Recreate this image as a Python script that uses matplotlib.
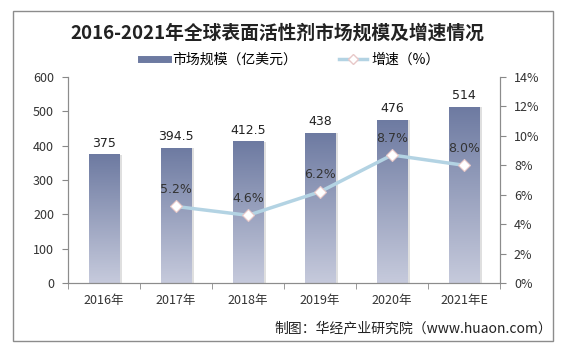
import matplotlib
matplotlib.use("Agg")
import matplotlib.pyplot as plt
import numpy as np
from matplotlib.patches import Rectangle
from matplotlib.lines import Line2D
from matplotlib.colors import LinearSegmentedColormap

plt.rcParams['font.family'] = ['Noto Sans CJK SC', 'DejaVu Sans']

categories = ["2016年", "2017年", "2018年", "2019年", "2020年", "2021年E"]
market_size = [375, 394.5, 412.5, 438, 476, 514]
size_labels = ["375", "394.5", "412.5", "438", "476", "514"]
growth_years = ["2017年", "2018年", "2019年", "2020年", "2021年E"]
growth = [5.2, 4.6, 6.2, 8.7, 8.0]

fig = plt.figure(figsize=(5.64, 3.6), dpi=100)
fig.patch.set_facecolor("white")

frame = Rectangle((13/564, 1-341/360), (553-13)/564, (341-11)/360, transform=fig.transFigure,
                  fill=False, edgecolor="#8c8c8c", linewidth=1.0)
fig.patches.append(frame)

ax = fig.add_axes([68/564, 1-283/360, (500-68)/564, (283-77)/360])
ax2 = ax.twinx()

x = np.arange(len(categories))
bw = 0.43

grad = np.linspace(0, 1, 256).reshape(-1, 1)
cmap = LinearSegmentedColormap.from_list("g", ["#c6cadc", "#6d7aa1"])

bars = ax.bar(x, market_size, width=bw, color="none", edgecolor="none", zorder=2)
for b in bars:
    bx, by = b.get_x(), b.get_y()
    w, h = b.get_width(), b.get_height()
    sh = Rectangle((bx + 0.035, by), w, h - 2, facecolor="#d8d8d8", edgecolor="none", zorder=1.5, alpha=0.8)
    ax.add_patch(sh)
    im = ax.imshow(grad, extent=[bx, bx + w, by, by + h], origin="lower", cmap=cmap,
                   aspect="auto", zorder=2)
    im.set_clip_path(b)

for xi, v, lab in zip(x, market_size, size_labels):
    ax.text(xi, v + 12, lab, ha="center", va="bottom", fontsize=9, color="#222222",
            family=["DejaVu Sans"], zorder=5)

ax.set_xlim(-0.5, len(categories) - 0.5)
ax.set_ylim(0, 600)
ax.set_yticks(range(0, 601, 100))
ax.set_xticks(x)
ax.set_xticklabels(categories, fontsize=9, color="#333333")
ax.set_xticks(np.arange(-0.5, len(categories), 1), minor=True)
ax.tick_params(axis="x", which="major", length=0, pad=8)
ax.tick_params(axis="x", which="minor", length=4, color="#888888", direction="out")
ax.tick_params(axis="y", length=4, color="#888888", labelsize=9, labelcolor="#333333", pad=6)

gx = [categories.index(c) for c in growth_years]
ax2.plot(gx, growth, color="#b3d3e3", linewidth=2.5, zorder=3)
ax2.plot(gx, growth, linestyle="none", marker="D", markersize=6, markerfacecolor="white",
         markeredgecolor="#e8c8c8", markeredgewidth=0.8, zorder=4)
for xi, g in zip(gx, growth):
    ax2.text(xi, g + 0.7, f"{g:.1f}%", ha="center", va="bottom", fontsize=9, color="#333333",
             family=["DejaVu Sans"], zorder=5)
ax2.set_ylim(0, 14)
ax2.set_yticks(range(0, 15, 2))
ax2.set_yticklabels([f"{t}%" for t in range(0, 15, 2)])
ax2.tick_params(axis="y", length=4, color="#888888", labelsize=9, labelcolor="#333333", pad=6)

for a in (ax, ax2):
    a.spines["top"].set_visible(False)
    for s in ("left", "right", "bottom"):
        a.spines[s].set_color("#8c8c8c")
        a.spines[s].set_linewidth(0.8)
ax.set_zorder(ax2.get_zorder() - 1)
ax.patch.set_visible(True)
ax2.patch.set_visible(False)

fig.text(277/564, 1 - 33/360, "2016-2021年全球表面活性剂市场规模及增速情况",
         ha="center", va="center", fontsize=13.5, fontweight="bold", color="#222222")

handles = [Line2D([], [], color="#6d7aa1", linewidth=5),
           Line2D([], [], color="#b3d3e3", linewidth=2.5, marker="D", markersize=5,
                  markerfacecolor="white", markeredgecolor="#e8c8c8")]
fig.legend(handles, ["市场规模（亿美元）", "增速（%）"], loc="center",
           bbox_to_anchor=(290/564, 1 - 60/360), ncol=2, frameon=False,
           fontsize=10, handlelength=2.0, columnspacing=3.0, handletextpad=0.3)

fig.text(552/564, 1 - 328/360, "制图：华经产业研究院（www.huaon.com）", ha="right", va="center",
         fontsize=10, color="#222222")

fig.savefig("out.png", dpi=100)
